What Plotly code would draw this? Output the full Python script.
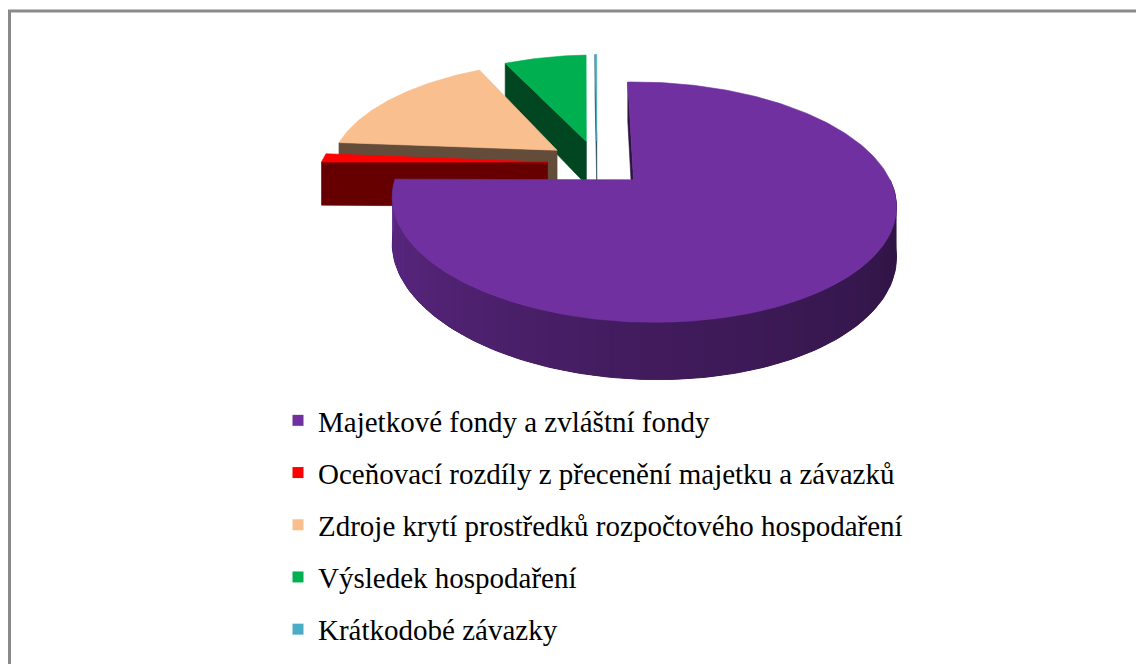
import numpy as np
import plotly.graph_objects as go

# ---------------- data ----------------
categories = [
    "Majetkové fondy a zvláštní fondy",
    "Oceňovací rozdíly z přecenění majetku a závazků",
    "Zdroje krytí prostředků rozpočtového hospodaření",
    "Výsledek hospodaření",
    "Krátkodobé závazky",
]
values = [75.0, 1.3, 16.75, 6.8, 0.15]          # share in %
colors = ["#7030A0", "#FF0000", "#F9BF8F", "#00B050", "#4BACC6"]

# ---------------- 3D pie geometry (style) ----------------
PULL = 0.21                # explosion of the slices
CX, CY = 597.0, 163.0      # centre of pie (axis units = screen pixels)
RX, RY = 238.0, 109.2      # radii of the top ellipse
KX, KY = -0.036, 0.18      # perspective factors
H = 45.0                   # thickness of the pie
OFF = 8                    # page body margin


def proj(X, Y, Z):
    s = 1.0 / (1.0 + KY * Y + KX * X)
    return CX + RX * X * s, CY - RY * Y * s + H * Z * s


def hex2rgb(h):
    h = h.lstrip("#")
    return np.array([int(h[i:i + 2], 16) for i in (0, 2, 4)], dtype=float)


def shade(h, f):
    c = np.clip(hex2rgb(h) * f, 0, 255).astype(int)
    return "rgb(%d,%d,%d)" % tuple(c)


def poly_trace(xs, ys, color, lw=0.6):
    return go.Scatter(
        x=list(xs) + [xs[0]], y=list(ys) + [ys[0]],
        mode="lines", fill="toself", fillcolor=color,
        line=dict(color=color, width=lw),
        hoverinfo="skip", showlegend=False,
    )


def wall_factor(phi):
    if phi >= 180:
        return 0.59 + (0.85 - 0.59) * (phi - 180) / 90
    return 0.40 + (0.59 - 0.40) * (phi - 90) / 90


total = float(sum(values))
starts = np.cumsum([0] + values[:-1]) / total * 360.0
ends = np.cumsum(values) / total * 360.0
mids = (starts + ends) / 2

# draw back slices first
order = sorted(range(len(values)), key=lambda i: -np.cos(np.radians(mids[i])))

traces = []
for i in order:
    a0, a1, m, col = starts[i], ends[i], mids[i], colors[i]
    ox, oy = PULL * np.sin(np.radians(m)), PULL * np.cos(np.radians(m))

    def rim(phis, Z):
        r = np.radians(phis)
        return proj(ox + np.sin(r), oy + np.cos(r), Z)

    # outer wall (front half visible: 90..270 deg), shaded gradient
    w0, w1 = max(a0, 90.0), min(a1, 270.0)
    if w1 > w0:
        ph = np.linspace(w0, w1, 120)
        xt, yt = rim(ph, 0)
        xb, yb = rim(ph[::-1], 1)
        traces.append(poly_trace(np.r_[xt, xb], np.r_[yt, yb],
                                 shade(col, wall_factor((w0 + w1) / 2)), lw=1))
        nseg = max(1, int(np.ceil((w1 - w0) / 3.0)))
        edges = np.linspace(w0, w1, nseg + 1)
        for k in range(nseg):
            ph = np.linspace(edges[k], edges[k + 1] + 0.4, 4)
            xt, yt = rim(ph, 0)
            xb, yb = rim(ph[::-1], 1)
            f = wall_factor((edges[k] + edges[k + 1]) / 2)
            traces.append(poly_trace(np.r_[xt, xb], np.r_[yt, yb], shade(col, f), lw=0))

    # radial faces
    for ang, visible in ((a0, np.sin(np.radians(a0)) <= 1e-9),
                         (a1, np.sin(np.radians(a1)) > 1e-9)):
        if visible:
            vx0, vy0 = proj(ox, oy, 0)
            vx1, vy1 = proj(ox, oy, 1)
            rx0, ry0 = rim(np.array([ang]), 0)
            rx1, ry1 = rim(np.array([ang]), 1)
            traces.append(poly_trace([vx0, rx0[0], rx1[0], vx1],
                                     [vy0, ry0[0], ry1[0], vy1], shade(col, 0.4)))

    # top surface
    ph = np.linspace(a0, a1, max(3, int((a1 - a0) / 1.0) + 2))
    xt, yt = rim(ph, 0)
    vx, vy = proj(ox, oy, 0)
    traces.append(poly_trace(np.r_[vx, xt], np.r_[vy, yt], col))

fig = go.Figure(traces)

# legend entries
for i, name in enumerate(categories):
    fig.add_trace(go.Scatter(
        x=[None], y=[None], mode="markers", name=name,
        marker=dict(symbol="square", size=11, color=colors[i]),
        legendgroup="g%d" % i, showlegend=True,
    ))

fig.update_layout(
    width=1144, height=664,
    margin=dict(l=0, r=0, t=0, b=0),
    paper_bgcolor="white", plot_bgcolor="white",
    xaxis=dict(range=[OFF, 1144 + OFF], visible=False, fixedrange=True),
    yaxis=dict(range=[664 + OFF, OFF], visible=False, fixedrange=True),
    showlegend=True,
    legend=dict(
        x=270 / 1144, y=1 - 387 / 664, xanchor="left", yanchor="top",
        font=dict(family="Liberation Serif, Times New Roman, serif", size=29, color="black"),
        traceorder="grouped", tracegroupgap=11.5,
        bgcolor="rgba(0,0,0,0)", itemclick=False, itemdoubleclick=False,
    ),
    shapes=[
        dict(type="line", xref="x", yref="y", x0=9.5, y0=700, x1=9.5, y1=11,
             line=dict(color="#8a8a8a", width=3)),
        dict(type="line", xref="x", yref="y", x0=8, y0=11, x1=1160, y1=11,
             line=dict(color="#8a8a8a", width=3)),
    ],
)

fig.write_html("out.html")
